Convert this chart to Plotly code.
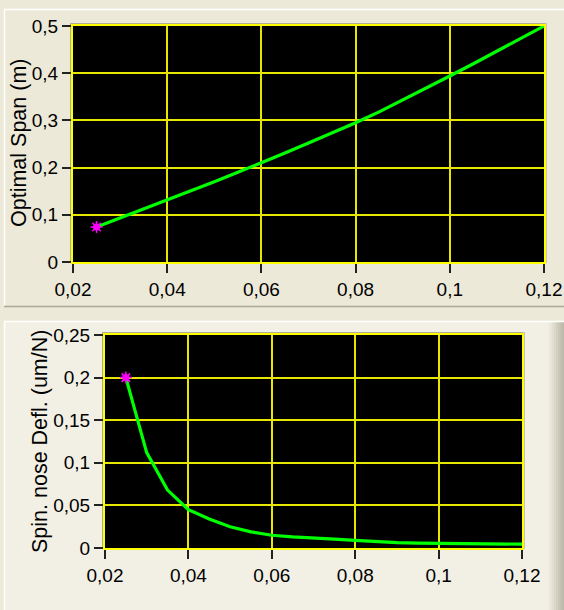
import plotly.graph_objects as go

# ---- data ----
span_x = [0.025, 0.03, 0.035, 0.04, 0.045, 0.05, 0.055, 0.06, 0.065, 0.07,
          0.075, 0.08, 0.085, 0.09, 0.095, 0.1, 0.105, 0.11, 0.115, 0.12]
span_y = [0.074, 0.093, 0.112, 0.131, 0.150, 0.170, 0.190, 0.210, 0.231, 0.252,
          0.273, 0.295, 0.318, 0.343, 0.368, 0.394, 0.420, 0.447, 0.473, 0.500]

defl_x = [0.025, 0.03, 0.035, 0.04, 0.045, 0.05, 0.055, 0.06, 0.065, 0.07,
          0.075, 0.08, 0.085, 0.09, 0.095, 0.1, 0.105, 0.11, 0.115, 0.12]
defl_y = [0.200, 0.112, 0.068, 0.045, 0.034, 0.025, 0.019, 0.015, 0.013, 0.012,
          0.0105, 0.009, 0.0075, 0.0062, 0.0058, 0.0055, 0.0052, 0.005, 0.0047, 0.0045]

x_ticks = [0.02, 0.04, 0.06, 0.08, 0.1, 0.12]
x_ticktext = ["0,02", "0,04", "0,06", "0,08", "0,1", "0,12"]
span_ticks = [0, 0.1, 0.2, 0.3, 0.4, 0.5]
span_ticktext = ["0", "0,1", "0,2", "0,3", "0,4", "0,5"]
defl_ticks = [0, 0.05, 0.1, 0.15, 0.2, 0.25]
defl_ticktext = ["0", "0,05", "0,1", "0,15", "0,2", "0,25"]

span_title = "Optimal Span (m)"
defl_title = "Spin. nose Defl. (um/N)"

W, H = 564, 610
FONT = "Liberation Sans, Arial, sans-serif"
LINE_GREEN = "#00FF00"
MAGENTA = "#FF00FF"
YELLOW = "#FFFF00"
GRID = "#E6E600"


def px_x(x):
    return x / W


def px_y(y):
    return 1 - y / H


fig = go.Figure()

for xs, ys, xa, ya in ((span_x, span_y, "x", "y"), (defl_x, defl_y, "x2", "y2")):
    fig.add_trace(go.Scatter(x=xs, y=ys, mode="lines",
                             line=dict(color=LINE_GREEN, width=3.2),
                             xaxis=xa, yaxis=ya, showlegend=False))
    fig.add_trace(go.Scatter(x=xs[:1], y=ys[:1], mode="markers",
                             marker=dict(symbol="circle", size=7, color=MAGENTA,
                                         line=dict(width=0)),
                             xaxis=xa, yaxis=ya, showlegend=False))
    fig.add_trace(go.Scatter(x=xs[:1], y=ys[:1], mode="markers",
                             marker=dict(symbol="asterisk-open", size=10, color=MAGENTA,
                                         line=dict(color=MAGENTA, width=1.5)),
                             xaxis=xa, yaxis=ya, showlegend=False))

axis_common = dict(
    showgrid=True, gridcolor=GRID, gridwidth=1.5,
    showline=True, linecolor=YELLOW, linewidth=2, mirror=True,
    zeroline=False, ticks="outside", ticklen=9, tickwidth=1.5,
    tickcolor="#222222", tickfont=dict(family=FONT, size=19, color="#000000"),
    fixedrange=True, automargin=False,
)

top = dict(x0=73, x1=544, y0=26, y1=262)
bot = dict(x0=105, x1=522, y0=335, y1=548)

fig.update_layout(
    width=W, height=H, autosize=False,
    margin=dict(l=0, r=0, t=0, b=0, pad=0),
    paper_bgcolor="#ECE9D8", plot_bgcolor="#000000",
    xaxis=dict(domain=[px_x(top["x0"]), px_x(top["x1"])], range=[0.02, 0.12],
               tickvals=x_ticks, ticktext=x_ticktext, anchor="y", **axis_common),
    yaxis=dict(domain=[px_y(top["y1"]), px_y(top["y0"])], range=[0, 0.5],
               tickvals=span_ticks, ticktext=span_ticktext, anchor="x", **axis_common),
    xaxis2=dict(domain=[px_x(bot["x0"]), px_x(bot["x1"])], range=[0.02, 0.12],
                tickvals=x_ticks, ticktext=x_ticktext, anchor="y2", **axis_common),
    yaxis2=dict(domain=[px_y(bot["y1"]), px_y(bot["y0"])], range=[0, 0.25],
                tickvals=defl_ticks, ticktext=defl_ticktext, anchor="x2", **axis_common),
    showlegend=False,
)

shapes = []
# lower panel background
shapes.append(dict(type="rect", xref="paper", yref="paper", layer="below",
                   x0=px_x(4), x1=px_x(564), y0=px_y(610), y1=px_y(321),
                   fillcolor="#F2F0E5", line=dict(width=0)))
# right-edge shading on lower panel
shade = ["#EEECE0", "#E8E6D9", "#E2DFD2", "#DAD7C9", "#D2CFC0", "#CAC7B8", "#C4C1B2", "#BEBBAC"]
for i, c in enumerate(shade):
    shapes.append(dict(type="rect", xref="paper", yref="paper", layer="below",
                       x0=px_x(548 + 2 * i), x1=px_x(550 + 2 * i), y0=px_y(610), y1=px_y(321),
                       fillcolor=c, line=dict(width=0)))
# panel edges
shapes.append(dict(type="line", xref="paper", yref="paper", layer="below",
                   x0=px_x(4), x1=px_x(564), y0=px_y(9.5), y1=px_y(9.5),
                   line=dict(color="#FFFFFF", width=1.5)))
shapes.append(dict(type="line", xref="paper", yref="paper", layer="below",
                   x0=px_x(4.5), x1=px_x(4.5), y0=px_y(9), y1=px_y(306),
                   line=dict(color="#FFFFFF", width=1.5)))
shapes.append(dict(type="line", xref="paper", yref="paper", layer="below",
                   x0=px_x(4), x1=px_x(564), y0=px_y(306.5), y1=px_y(306.5),
                   line=dict(color="#ACA899", width=1.5)))
shapes.append(dict(type="line", xref="paper", yref="paper", layer="below",
                   x0=px_x(4), x1=px_x(564), y0=px_y(321.5), y1=px_y(321.5),
                   line=dict(color="#FFFFFF", width=1.5)))
shapes.append(dict(type="line", xref="paper", yref="paper", layer="below",
                   x0=px_x(4.5), x1=px_x(4.5), y0=px_y(321), y1=px_y(610),
                   line=dict(color="#FFFFFF", width=1.5)))
# grey bevel around the plot areas (thin strips outside the frame)
for b in (top, bot):
    shapes.append(dict(type="rect", xref="paper", yref="paper", layer="below",
                       x0=px_x(b["x0"] - 2), x1=px_x(b["x1"] + 2),
                       y0=px_y(b["y0"] - 1), y1=px_y(b["y0"] - 3),
                       fillcolor="#B0AC9C", line=dict(width=0)))
    shapes.append(dict(type="rect", xref="paper", yref="paper", layer="below",
                       x0=px_x(b["x0"] - 3), x1=px_x(b["x0"] - 1),
                       y0=px_y(b["y1"] + 1), y1=px_y(b["y0"] - 3),
                       fillcolor="#B0AC9C", line=dict(width=0)))
    shapes.append(dict(type="rect", xref="paper", yref="paper", layer="below",
                       x0=px_x(b["x1"] + 1), x1=px_x(b["x1"] + 3),
                       y0=px_y(b["y1"] + 1), y1=px_y(b["y0"] - 3),
                       fillcolor="#C8C5B6", line=dict(width=0)))
# black plot backgrounds (drawn above the panel fills)
for ax in ("x", "x2"):
    ya = "y" if ax == "x" else "y2"
    shapes.append(dict(type="rect", xref=f"{ax} domain", yref=f"{ya} domain", layer="below",
                       x0=0, x1=1, y0=0, y1=1, fillcolor="#000000", line=dict(width=0)))
fig.update_layout(shapes=shapes)

fig.add_annotation(text=span_title, xref="paper", yref="paper",
                   x=px_x(19), y=px_y(143), textangle=-90, showarrow=False,
                   xanchor="center", yanchor="middle",
                   font=dict(family=FONT, size=21.5, color="#000000"))
fig.add_annotation(text=defl_title, xref="paper", yref="paper",
                   x=px_x(40), y=px_y(442), textangle=-90, showarrow=False,
                   xanchor="center", yanchor="middle",
                   font=dict(family=FONT, size=21.5, color="#000000"))

fig.write_html("out.html",
               config={"displayModeBar": False},
               post_script="document.body.style.margin='0';document.body.style.overflow='hidden';")
